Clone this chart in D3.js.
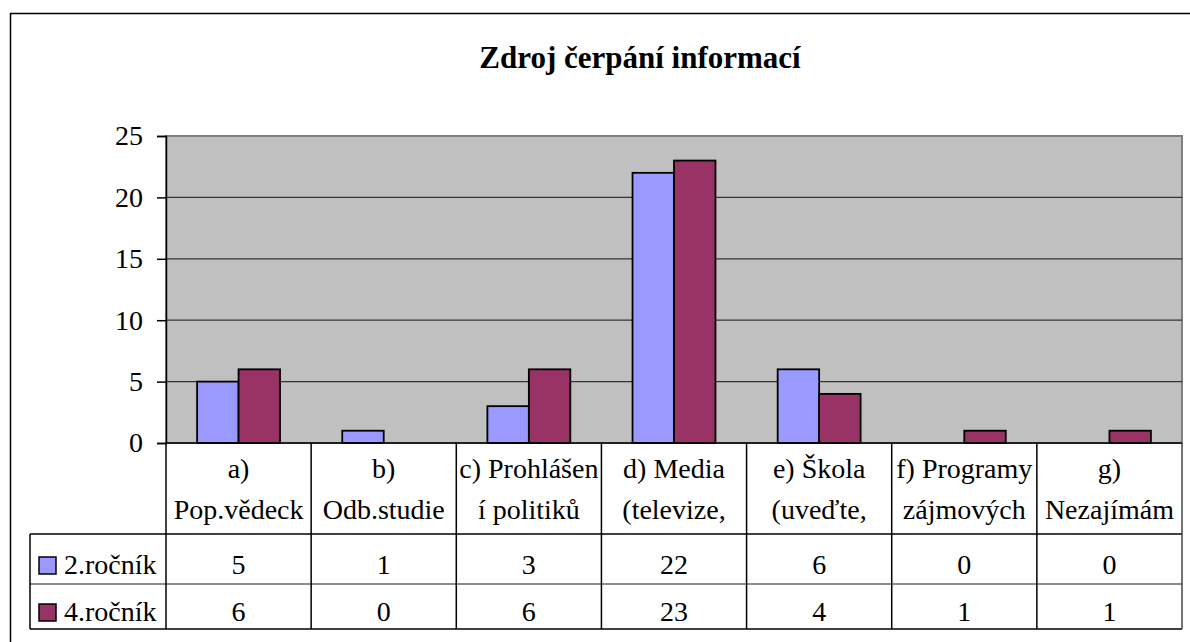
<!DOCTYPE html>
<html>
<head>
<meta charset="utf-8">
<title>Zdroj čerpání informací</title>
<script src="https://cdn.jsdelivr.net/npm/d3@7"></script>
<style>
  body { margin: 0; background: #fff; }
</style>
</head>
<body>
<div id="chart"></div>
<script>
var categories = ["a", "b", "c", "d", "e", "f", "g"];
var categoryLabels = [
  ["a)", "Pop.vědeck"],
  ["b)", "Odb.studie"],
  ["c) Prohlášen", "í politiků"],
  ["d) Media", "(televize,"],
  ["e) Škola", "(uveďte,"],
  ["f) Programy", "zájmových"],
  ["g)", "Nezajímám"]
];
var seriesNames = ["2.ročník", "4.ročník"];
var rocnik2 = [5, 1, 3, 22, 6, 0, 0];
var rocnik4 = [6, 0, 6, 23, 4, 1, 1];
var yTicks = [0, 5, 10, 15, 20, 25];
var colors = ["#9999ff", "#993366"];

var FONT = "'Liberation Serif', 'Times New Roman', serif";
var width = 1190, height = 642;
var plotLeft = 166, plotRight = 1182, plotTop = 136, plotBottom = 443;
var rowTop = 534, rowMid = 584, rowBottom = 629, legendLeft = 30;

var svg = d3.select("#chart").append("svg")
    .attr("width", width)
    .attr("height", height);

// chart border
svg.append("rect")
    .attr("x", 10.5).attr("y", 13.5)
    .attr("width", 1300).attr("height", 700)
    .attr("fill", "#fff").attr("stroke", "#000").attr("stroke-width", 1.5);

svg.append("text")
    .attr("x", 640).attr("y", 68)
    .attr("text-anchor", "middle")
    .style("font-family", FONT)
    .style("font-size", "31px").style("font-weight", "bold")
    .text("Zdroj čerpání informací");

var x0 = d3.scaleBand().domain(categories).range([plotLeft, plotRight])
    .paddingInner(0.4286).paddingOuter(0.2143);
var x1 = d3.scaleBand().domain(seriesNames).range([0, x0.bandwidth()]);
var y = d3.scaleLinear().domain([0, 25]).range([plotBottom, plotTop]);
var step = x0.step();

// plot area
svg.append("rect")
    .attr("x", plotLeft).attr("y", plotTop)
    .attr("width", plotRight - plotLeft).attr("height", plotBottom - plotTop)
    .attr("fill", "#c0c0c0").attr("stroke", "#808080").attr("stroke-width", 2);

svg.append("g").selectAll("line")
    .data(yTicks.filter(function(d) { return d > 0 && d < 25; }))
  .enter().append("line")
    .attr("x1", plotLeft).attr("x2", plotRight)
    .attr("y1", function(d) { return y(d); })
    .attr("y2", function(d) { return y(d); })
    .attr("stroke", "#333").attr("stroke-width", 1.2);

var series = [rocnik2, rocnik4];
series.forEach(function(vals, si) {
  svg.append("g").selectAll("rect")
      .data(vals)
    .enter().append("rect")
      .attr("x", function(d, i) { return x0(categories[i]) + x1(seriesNames[si]); })
      .attr("y", function(d) { return y(d); })
      .attr("width", x1.bandwidth())
      .attr("height", function(d) { return plotBottom - y(d); })
      .attr("fill", colors[si])
      .attr("stroke", "#000").attr("stroke-width", 1.8)
      .style("display", function(d) { return d > 0 ? null : "none"; });
});

// y axis
var yAxis = svg.append("g")
    .attr("transform", "translate(" + plotLeft + ",0)")
    .call(d3.axisLeft(y).tickValues(yTicks).tickSize(9).tickPadding(14));
yAxis.select(".domain").attr("stroke", "#000").attr("stroke-width", 1.5);
yAxis.selectAll(".tick line").attr("stroke", "#000").attr("stroke-width", 1.5);
yAxis.selectAll(".tick text")
    .attr("fill", "#000")
    .style("font-family", FONT)
    .style("font-size", "28px");

// data table
var tbl = svg.append("g").attr("stroke", "#000").attr("stroke-width", 1.5);
tbl.append("line").attr("x1", plotLeft).attr("x2", plotRight).attr("y1", plotBottom).attr("y2", plotBottom);
tbl.append("line").attr("x1", legendLeft).attr("x2", plotRight).attr("y1", rowTop).attr("y2", rowTop);
tbl.append("line").attr("x1", legendLeft).attr("x2", plotRight).attr("y1", rowMid).attr("y2", rowMid)
    .attr("stroke", "#666");
tbl.append("line").attr("x1", legendLeft).attr("x2", plotRight).attr("y1", rowBottom).attr("y2", rowBottom);
tbl.append("line").attr("x1", legendLeft).attr("x2", legendLeft).attr("y1", rowTop).attr("y2", rowBottom);
tbl.selectAll(".vline")
    .data(d3.range(categories.length + 1))
  .enter().append("line")
    .attr("x1", function(i) { return plotLeft + i * step; })
    .attr("x2", function(i) { return plotLeft + i * step; })
    .attr("y1", plotBottom).attr("y2", rowBottom)
    .attr("stroke", function(i) { return i === categories.length ? "#444" : "#000"; });

var cx = function(i) { return x0(categories[i]) + x0.bandwidth() / 2; };

svg.append("g").selectAll("text")
    .data(categoryLabels)
  .enter().append("text")
    .attr("x", function(d, i) { return cx(i); })
    .attr("y", 478)
    .attr("text-anchor", "middle")
    .style("font-family", FONT)
    .style("font-size", "28px")
    .each(function(d) {
      var t = d3.select(this);
      t.selectAll("tspan").data(d).enter().append("tspan")
        .attr("x", t.attr("x"))
        .attr("dy", function(s, j) { return j === 0 ? 0 : 41; })
        .text(function(s) { return s; });
    });

var rowBaselines = [574, 621];
series.forEach(function(vals, si) {
  svg.append("g").selectAll("text")
      .data(vals)
    .enter().append("text")
      .attr("x", function(d, i) { return cx(i); })
      .attr("y", rowBaselines[si])
      .attr("text-anchor", "middle")
      .style("font-family", FONT)
      .style("font-size", "28px")
      .text(function(d) { return d; });

  svg.append("rect")
      .attr("x", 39).attr("y", rowBaselines[si] - 17)
      .attr("width", 17).attr("height", 17)
      .attr("fill", colors[si]).attr("stroke", "#000").attr("stroke-width", 1.5);
  svg.append("text")
      .attr("x", 64).attr("y", rowBaselines[si])
      .style("font-family", FONT)
      .style("font-size", "28px")
      .text(seriesNames[si]);
});
</script>
</body>
</html>
